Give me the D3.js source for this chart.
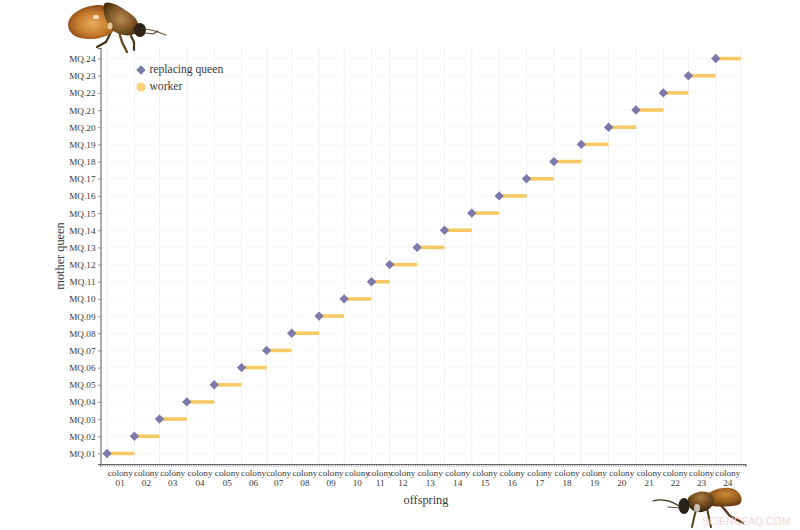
<!DOCTYPE html>
<html><head><meta charset="utf-8">
<script src="https://cdn.jsdelivr.net/npm/d3@7/dist/d3.min.js"></script>
<style>
html,body{margin:0;padding:0;background:#fff}
svg{display:block}
text{font-family:"Liberation Serif","Times New Roman",serif;fill:#3a3a3a}
</style></head><body>
<svg id="c" width="800" height="530"></svg>
<script>
const colonies = ["01","02","03","04","05","06","07","08","09","10","11","12","13","14","15","16","17","18","19","20","21","22","23","24"];
const motherQueens = ["MQ.01","MQ.02","MQ.03","MQ.04","MQ.05","MQ.06","MQ.07","MQ.08","MQ.09","MQ.10","MQ.11","MQ.12","MQ.13","MQ.14","MQ.15","MQ.16","MQ.17","MQ.18","MQ.19","MQ.20","MQ.21","MQ.22","MQ.23","MQ.24"];
const offspringPerColony = [12,11,12,12,12,11,11,12,11,12,8,12,12,12,12,12,12,12,12,12,12,11,12,11];
const legendLabels = ["replacing queen","worker"];
const colors = {queen:"#7d79ab", worker:"#f6c964", legendWorker:"#f9d27e"};

const svg = d3.select("#c");
const ends = Array.from(d3.cumsum(offspringPerColony));
const starts = [0].concat(ends.slice(0,-1));
const total = ends[ends.length-1];
const x = d3.scaleLinear().domain([-3,total+2]).range([100.2,745.4]);
const y = d3.scalePoint().domain(motherQueens).range([464,48]).padding(0.615);

// grid
const grid = svg.append("g");
grid.selectAll("line.v").data(starts.concat([total])).join("line").attr("class","v")
  .attr("x1",d=>x(d)).attr("x2",d=>x(d)).attr("y1",48).attr("y2",464)
  .attr("stroke","#f0f0f3").attr("stroke-width",1);
grid.selectAll("line.h").data(motherQueens).join("line").attr("class","h")
  .attr("x1",100).attr("x2",745).attr("y1",d=>y(d)).attr("y2",d=>y(d))
  .attr("stroke","#f8f8f8").attr("stroke-width",1);

// axes
const yAxis = svg.append("g").attr("transform","translate(100.5,0)")
  .call(d3.axisLeft(y).tickSize(2.5).tickPadding(2.5));
yAxis.selectAll("text").style("font-size","9.2px");
const xAxis = svg.append("g").attr("transform","translate(0,464)")
  .call(d3.axisBottom(x).tickValues(d3.range(-3,total+3)).tickSize(2.5).tickFormat(""));
[yAxis,xAxis].forEach(a=>{a.selectAll("path.domain").attr("stroke","#666").attr("stroke-width",1.1);
  a.selectAll(".tick line").attr("stroke","#666").attr("stroke-width",.7);});

// colony labels
const labels = svg.append("g").selectAll("text").data(colonies).join("text")
  .attr("text-anchor","middle").style("font-size","9.2px")
  .attr("transform",(d,i)=>`translate(${x((starts[i]+ends[i])/2)-0.5},0)`);
labels.append("tspan").attr("x",0).attr("y",476).text("colony");
labels.append("tspan").attr("x",0).attr("y",486).text(d=>d);

// titles
svg.append("text").attr("x",426).attr("y",503.5).attr("text-anchor","middle").style("font-size","12.3px").text("offspring");
svg.append("text").attr("transform","translate(63.5,256) rotate(-90)").attr("text-anchor","middle").style("font-size","12.3px").text("mother queen");

// marks
svg.append("g").selectAll("line").data(motherQueens).join("line")
  .attr("x1",(d,i)=>x(starts[i])).attr("x2",(d,i)=>x(ends[i]))
  .attr("y1",d=>y(d)).attr("y2",d=>y(d))
  .attr("stroke",colors.worker).attr("stroke-width",3.6);
const diamond = d3.symbol().type(d3.symbolSquare).size(44);
svg.append("g").selectAll("path").data(motherQueens).join("path")
  .attr("d",diamond())
  .attr("transform",(d,i)=>`translate(${x(starts[i])},${y(d)}) rotate(45)`)
  .attr("fill",colors.queen);

// legend
svg.append("path").attr("d",diamond()).attr("transform","translate(141,70) rotate(45)").attr("fill",colors.queen);
svg.append("circle").attr("cx",141).attr("cy",87).attr("r",4.6).attr("fill",colors.legendWorker);
svg.append("g").selectAll("text").data(legendLabels).join("text")
  .attr("x",149.5).attr("y",(d,i)=>72.5+i*17.4).style("font-size","11.6px").text(d=>d);

// decorative bees
const defs = svg.append("defs");
defs.append("filter").attr("id","soft").append("feGaussianBlur").attr("stdDeviation",0.55);
function grad(id,stops,cx,cy,r){
  const g=defs.append("radialGradient").attr("id",id).attr("cx",cx).attr("cy",cy).attr("r",r);
  stops.forEach(s=>g.append("stop").attr("offset",s[0]).attr("stop-color",s[1]));
}
grad("abd1",[[0,"#e7ab5e"],[.55,"#c67a2c"],[1,"#7a3d12"]],.5,.55,.6);
grad("thx1",[[0,"#b98a52"],[.6,"#7e5526"],[1,"#46300f"]],.5,.5,.6);
grad("abd2",[[0,"#c98a36"],[.6,"#96591c"],[1,"#56300f"]],.55,.35,.7);
grad("thx2",[[0,"#a8783a"],[.7,"#5e3e18"],[1,"#2d2010"]],.5,.3,.7);
function part(g,d,fill){g.append("path").attr("d",d).attr("fill",fill);}
function leg(g,d,c,w){g.append("path").attr("d",d).attr("fill","none").attr("stroke",c).attr("stroke-width",w).attr("stroke-linecap","round").attr("stroke-linejoin","round");}

const b1 = svg.append("g").attr("filter","url(#soft)");
leg(b1,"M111,32 L106,42 L97,47","#4a3015",2.2);
leg(b1,"M119,32 L122,42 L127,52","#6b4c26",2.4);
leg(b1,"M131,36 L134,42 L134,50","#4a3015",2.2);
leg(b1,"M146,29 L155,31 L166,35","#6e5334",1.2);
leg(b1,"M146,33 L153,34 L158,31","#5a4020",1.1);
part(b1,"M68,24 C69,14 82,6 98,5 C108,5 117,12 118,22 C118,31 106,39 90,39 C78,39 68,35 68,24 Z","url(#abd1)");
part(b1,"M104,4 C108,0 118,5 125,10 C134,15 141,22 138,31 C132,38 120,36 112,30 C106,22 102,12 104,4 Z","url(#thx1)");
b1.append("ellipse").attr("cx",140).attr("cy",30).attr("rx",6).attr("ry",7).attr("fill","#2e2417");
b1.append("ellipse").attr("cx",96).attr("cy",17).attr("rx",3).attr("ry",2).attr("fill","#f2e0c0");
b1.append("ellipse").attr("cx",110).attr("cy",26).attr("rx",2.5).attr("ry",3.5).attr("fill","#e7c999");

const b2 = svg.append("g").attr("filter","url(#soft)");
leg(b2,"M653,501 C660,499 670,500 679,506","#3a2a1a",1.1);
leg(b2,"M668,507 L680,508","#5a4a3a",1.1);
leg(b2,"M696,510 L694,518 L692,527","#5b3d1c",2);
leg(b2,"M707,508 L709,518 L711,527","#4e3418",2);
leg(b2,"M720,504 L730,516 L743,523","#5b3a17",2.4);
part(b2,"M706,495 C714,488 730,485 737,491 C743,496 743,503 738,505 C728,507 715,507 708,505 Z","url(#abd2)");
part(b2,"M688,498 C694,491 706,489 712,495 C716,502 712,510 702,512 C694,513 686,508 688,498 Z","url(#thx2)");
b2.append("ellipse").attr("cx",684).attr("cy",506).attr("rx",5.5).attr("ry",8).attr("fill","#26221d");
b2.append("ellipse").attr("cx",697).attr("cy",508).attr("rx",3).attr("ry",4).attr("fill","#c9c2b4");

svg.append("text").attr("x",702).attr("y",524.5).style("font-family","'Liberation Sans',sans-serif")
  .style("font-size","10.4px").style("fill","#f3d3d8").text("SCIENCEAQ.COM");
</script>
</body></html>
